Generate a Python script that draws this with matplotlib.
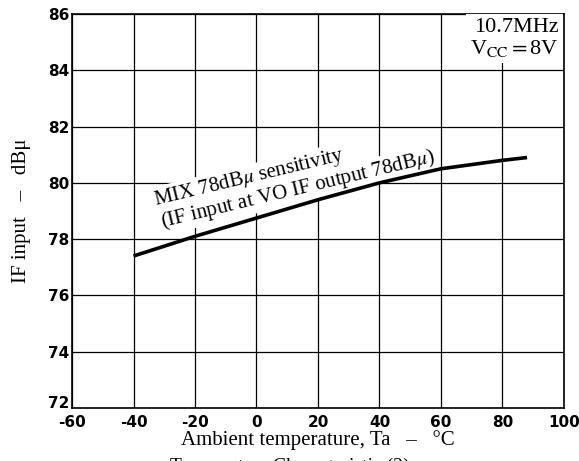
import matplotlib
matplotlib.use("Agg")
import matplotlib.pyplot as plt
from matplotlib.transforms import ScaledTranslation

# Ambient temperature (°C) and IF input (dBμ)
temp = [-40, -20, 0, 20, 40, 60, 80, 88]
if_input = [77.4, 78.1, 78.75, 79.4, 80.0, 80.5, 80.8, 80.9]

xticks = [-60, -40, -20, 0, 20, 40, 60, 80, 100]
xlabels = ["-60", "-40", "-20", "0", "20", "40", "60", "80", "100"]
yticks = [72, 74, 76, 78, 80, 82, 84, 86]

plt.rcParams["mathtext.fontset"] = "stix"
serif = "Liberation Serif"

fig = plt.figure(figsize=(5.79, 4.61), dpi=100)
ax = fig.add_axes([0.1244, 0.115, 0.8496, 0.8546])

ax.plot(temp, if_input, color="black", lw=2.6, solid_capstyle="butt", zorder=6)

ax.set_xlim(-60, 100)
ax.set_ylim(72, 86)
ax.set_xticks(xticks)
ax.set_xticklabels(xlabels)
ax.set_yticks(yticks)
ax.grid(True, color="black", lw=0.9)
ax.tick_params(length=0, labelsize=11)
ax.tick_params(axis="x", pad=5)
ax.tick_params(axis="y", pad=2)
for lab in ax.get_xticklabels() + ax.get_yticklabels():
    lab.set_fontweight("bold")
# lift the bottom "72" a little so it clears "-60"
lab72 = ax.get_yticklabels()[0]
lab72.set_transform(lab72.get_transform() + ScaledTranslation(0, 4 / 72, fig.dpi_scale_trans))
for sp in ax.spines.values():
    sp.set_linewidth(1.2)

ax.set_xlabel("Ambient temperature, Ta   –   °C", family=serif, fontsize=15, labelpad=0)
ax.set_ylabel("IF input   –   dBμ", family=serif, fontsize=15, labelpad=12)

white = dict(facecolor="white", edgecolor="none", pad=1)
ax.text(-33.0, 79.22, r"MIX 78dB$\mu$ sensitivity", family=serif, fontsize=15,
        rotation=13.5, rotation_mode="anchor", ha="left", va="baseline",
        bbox=white, zorder=4)
ax.text(-30.6, 78.42, r"(IF input at VO IF output 78dB$\mu$)", family=serif, fontsize=15,
        rotation=13.5, rotation_mode="anchor", ha="left", va="baseline",
        bbox=white, zorder=4)

ax.text(0.99, 0.99, "10.7MHz\n" + r"V$_{\rm CC}$$=$8V", transform=ax.transAxes,
        family=serif, fontsize=16, ha="right", va="top", linespacing=1.05,
        bbox=dict(facecolor="white", edgecolor="none", pad=3), zorder=5)

fig.text(0.5, -0.012, "Temperature Characteristic (2)", family=serif, fontsize=14,
         ha="center", va="center")

fig.savefig("out.png", dpi=100)
